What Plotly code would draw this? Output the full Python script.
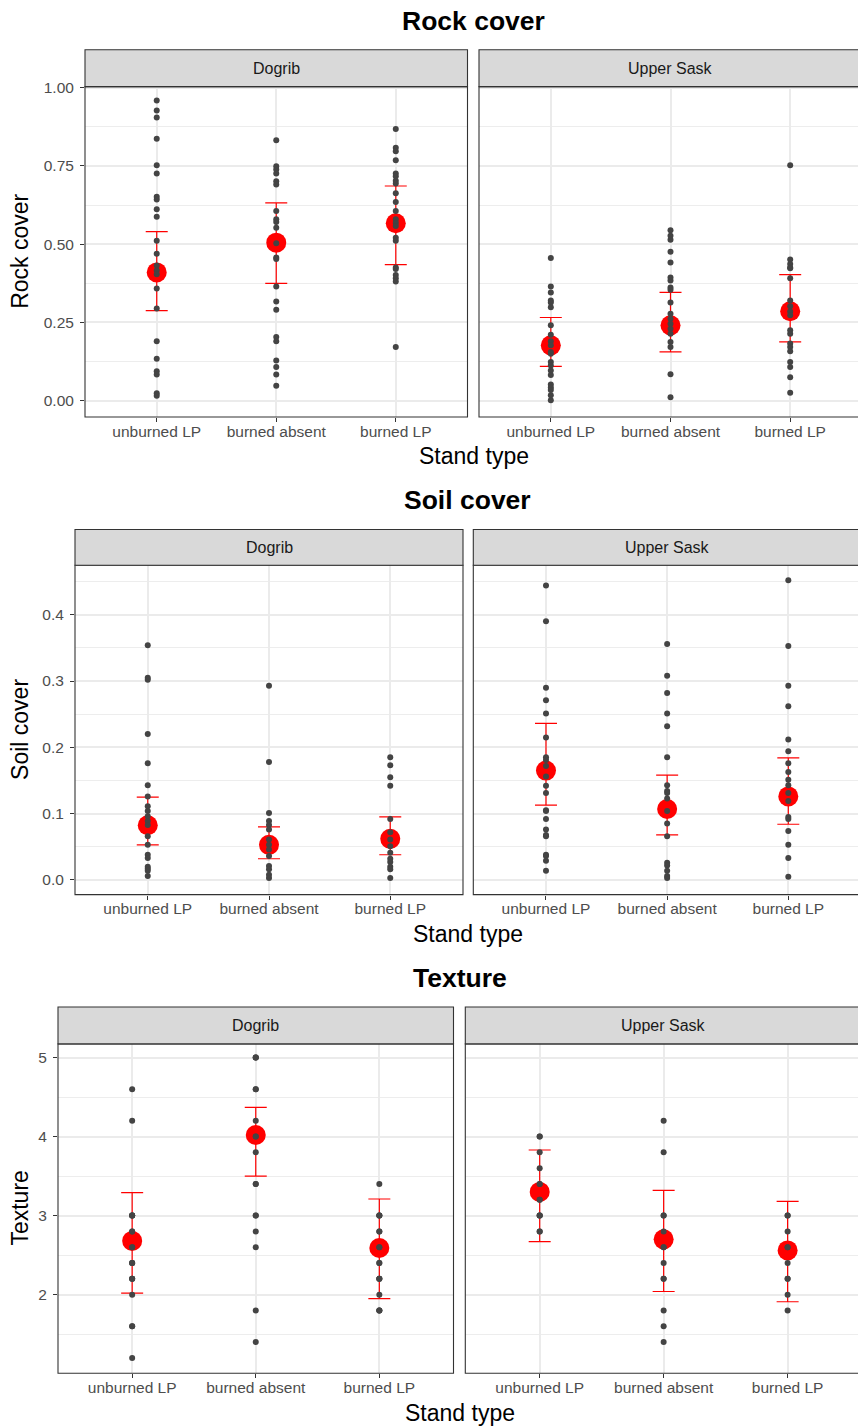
import plotly.graph_objects as go

W, H = 858, 1428

categories = ["unburned LP", "burned absent", "burned LP"]
regions = ["Dogrib", "Upper Sask"]

# ---------------- Rock cover ----------------
rock_dogrib_pts = [
    [0.959, 0.927, 0.905, 0.837, 0.752, 0.726, 0.652, 0.643, 0.612, 0.588, 0.511, 0.470,
     0.432, 0.416, 0.404, 0.359, 0.295, 0.190, 0.134, 0.094, 0.084, 0.024, 0.016],
    [0.832, 0.749, 0.739, 0.726, 0.701, 0.691, 0.606, 0.580, 0.571, 0.553, 0.503, 0.458,
     0.453, 0.365, 0.317, 0.291, 0.204, 0.190, 0.129, 0.108, 0.084, 0.048],
    [0.868, 0.808, 0.797, 0.768, 0.726, 0.717, 0.703, 0.694, 0.663, 0.635, 0.606, 0.580,
     0.569, 0.558, 0.521, 0.511, 0.426, 0.421, 0.402, 0.391, 0.381, 0.172],
]
rock_dogrib_mean = [0.410, 0.505, 0.567]
rock_dogrib_lo = [0.288, 0.375, 0.435]
rock_dogrib_hi = [0.540, 0.632, 0.686]

rock_upper_pts = [
    [0.456, 0.365, 0.346, 0.320, 0.314, 0.299, 0.241, 0.211, 0.190, 0.177, 0.156, 0.150,
     0.124, 0.113, 0.097, 0.082, 0.052, 0.042, 0.034, 0.018, 0.002],
    [0.545, 0.527, 0.514, 0.476, 0.442, 0.394, 0.384, 0.362, 0.355, 0.314, 0.278, 0.262,
     0.246, 0.230, 0.214, 0.188, 0.172, 0.085, 0.011],
    [0.752, 0.451, 0.437, 0.426, 0.423, 0.391, 0.320, 0.302, 0.285, 0.273, 0.225, 0.214,
     0.183, 0.172, 0.158, 0.124, 0.108, 0.075, 0.026],
]
rock_upper_mean = [0.177, 0.241, 0.286]
rock_upper_lo = [0.110, 0.156, 0.188]
rock_upper_hi = [0.266, 0.346, 0.403]

# ---------------- Soil cover ----------------
soil_dogrib_pts = [
    [0.354, 0.305, 0.302, 0.220, 0.176, 0.143, 0.126, 0.111, 0.104, 0.096, 0.089, 0.083,
     0.066, 0.053, 0.038, 0.033, 0.020, 0.017, 0.014, 0.006],
    [0.293, 0.178, 0.101, 0.089, 0.083, 0.076, 0.061, 0.053, 0.046, 0.036, 0.021, 0.016,
     0.008, 0.003],
    [0.185, 0.173, 0.155, 0.142, 0.092, 0.072, 0.061, 0.051, 0.041, 0.032, 0.027, 0.020,
     0.016, 0.003],
]
soil_dogrib_mean = [0.0825, 0.053, 0.062]
soil_dogrib_lo = [0.053, 0.032, 0.038]
soil_dogrib_hi = [0.125, 0.080, 0.095]

soil_upper_pts = [
    [0.444, 0.390, 0.290, 0.271, 0.251, 0.215, 0.185, 0.181, 0.172, 0.156, 0.142, 0.131,
     0.105, 0.104, 0.092, 0.076, 0.068, 0.066, 0.038, 0.036, 0.029, 0.014],
    [0.356, 0.308, 0.282, 0.251, 0.232, 0.185, 0.143, 0.134, 0.131, 0.123, 0.104, 0.085,
     0.066, 0.026, 0.022, 0.014, 0.006, 0.003],
    [0.452, 0.353, 0.293, 0.262, 0.212, 0.194, 0.176, 0.163, 0.151, 0.143, 0.131, 0.119,
     0.095, 0.092, 0.074, 0.053, 0.033, 0.005],
]
soil_upper_mean = [0.165, 0.107, 0.126]
soil_upper_lo = [0.113, 0.068, 0.084]
soil_upper_hi = [0.236, 0.158, 0.184]

# ---------------- Texture ----------------
tex_dogrib_pts = [
    [4.6, 4.2, 3.0, 3.0, 3.0, 3.0, 2.8, 2.8, 2.6, 2.6, 2.4, 2.4, 2.4, 2.2, 2.2, 2.2, 2.0,
     1.6, 1.6, 1.2],
    [5.0, 5.0, 5.0, 4.6, 4.6, 4.2, 4.0, 4.0, 3.8, 3.4, 3.4, 3.0, 3.0, 2.8, 2.6, 1.8, 1.4],
    [3.4, 3.0, 3.0, 3.0, 2.8, 2.8, 2.6, 2.6, 2.4, 2.4, 2.2, 2.2, 2.2, 2.0, 1.8, 1.8, 1.8],
]
tex_dogrib_mean = [2.68, 4.02, 2.59]
tex_dogrib_lo = [2.02, 3.50, 1.95]
tex_dogrib_hi = [3.29, 4.37, 3.21]

tex_upper_pts = [
    [4.0, 4.0, 3.8, 3.6, 3.4, 3.4, 3.2, 3.2, 3.0, 3.0, 3.0, 2.8, 2.8],
    [4.2, 3.8, 3.0, 3.0, 2.8, 2.6, 2.6, 2.4, 2.2, 2.2, 1.8, 1.6, 1.4],
    [3.0, 3.0, 2.8, 2.6, 2.6, 2.4, 2.2, 2.2, 2.0, 1.8],
]
tex_upper_mean = [3.30, 2.70, 2.56]
tex_upper_lo = [2.67, 2.04, 1.91]
tex_upper_hi = [3.83, 3.32, 3.18]

# ---------------- layout (pixels) ----------------
FONT = "Arial, Liberation Sans, sans-serif"
TICK_SIZE = 15.5
blocks = [
    dict(title="Rock cover", ytitle="Rock cover",
         data=[(rock_dogrib_pts, rock_dogrib_mean, rock_dogrib_lo, rock_dogrib_hi),
               (rock_upper_pts, rock_upper_mean, rock_upper_lo, rock_upper_hi)],
         top=80, bottom=412, strip_top=43, cols=[(85, 467.5), (479, 862)],
         yrange=[-0.0518, 1.0035], tickvals=[0, 0.25, 0.5, 0.75, 1.0],
         ticktext=["0.00", "0.25", "0.50", "0.75", "1.00"], minor=0.125,
         title_y=14, xtitle_y=451, ytitle_x=20),
    dict(title="Soil cover", ytitle="Soil cover",
         data=[(soil_dogrib_pts, soil_dogrib_mean, soil_dogrib_lo, soil_dogrib_hi),
               (soil_upper_pts, soil_upper_mean, soil_upper_lo, soil_upper_hi)],
         top=561, bottom=892, strip_top=525, cols=[(75, 463), (473.3, 861)],
         yrange=[-0.0221, 0.4746], tickvals=[0, 0.1, 0.2, 0.3, 0.4],
         ticktext=["0.0", "0.1", "0.2", "0.3", "0.4"], minor=0.05,
         title_y=495, xtitle_y=932, ytitle_x=20),
    dict(title="Texture", ytitle="Texture",
         data=[(tex_dogrib_pts, tex_dogrib_mean, tex_dogrib_lo, tex_dogrib_hi),
               (tex_upper_pts, tex_upper_mean, tex_upper_lo, tex_upper_hi)],
         top=1042, bottom=1373, strip_top=1005, cols=[(58, 453.5), (465.3, 862)],
         yrange=[1.0053, 5.1725], tickvals=[2, 3, 4, 5],
         ticktext=["2", "3", "4", "5"], minor=0.5,
         title_y=976, xtitle_y=1413, ytitle_x=20),
]

fig = go.Figure()
layout = {}
shapes = []
annotations = []


def px_x(v):
    return v / W


def px_y(v):
    return 1 - v / H


k = 0
for b in blocks:
    for ci, (x0, x1) in enumerate(b["cols"]):
        k += 1
        xa = "x" if k == 1 else f"x{k}"
        ya = "y" if k == 1 else f"y{k}"
        xkey = "xaxis" if k == 1 else f"xaxis{k}"
        ykey = "yaxis" if k == 1 else f"yaxis{k}"
        full = 3.2
        vis_x1 = min(x1, W)
        r1 = 0.4 + (vis_x1 - x0) / (x1 - x0) * full
        layout[xkey] = dict(
            domain=[px_x(x0), px_x(vis_x1)], anchor=ya, range=[0.4, r1],
            tickmode="array", tickvals=[1, 2, 3], ticktext=categories,
            showgrid=True, gridcolor="#EBEBEB", gridwidth=1.6,
            zeroline=False, showline=False,
            ticks="outside", ticklen=4, tickcolor="#333333", tickwidth=1,
            ticklabelstandoff=-4,
            tickfont=dict(family=FONT, size=TICK_SIZE, color="#4D4D4D"),
            fixedrange=True,
        )
        first = ci == 0
        layout[ykey] = dict(
            domain=[px_y(b["bottom"]), px_y(b["top"])], anchor=xa, range=b["yrange"],
            tickmode="array", tickvals=b["tickvals"], ticktext=b["ticktext"],
            showticklabels=first, ticks="outside" if first else "",
            ticklen=4, tickcolor="#333333", tickwidth=1,
            ticklabelstandoff=3,
            showgrid=True, gridcolor="#EBEBEB", gridwidth=1.6,
            minor=dict(dtick=b["minor"], tick0=0, showgrid=True,
                       gridcolor="#EDEDED", gridwidth=1.1, ticks=""),
            zeroline=False, showline=False,
            tickfont=dict(family=FONT, size=TICK_SIZE, color="#4D4D4D"),
            fixedrange=True,
        )
        pts, mean, lo, hi = b["data"][ci]
        xs = [1, 2, 3]
        fig.add_trace(go.Scatter(
            x=xs, y=mean, xaxis=xa, yaxis=ya, mode="markers",
            marker=dict(color="#FF0000", size=20),
            error_y=dict(type="data", symmetric=False,
                         array=[h - m for h, m in zip(hi, mean)],
                         arrayminus=[m - l for m, l in zip(mean, lo)],
                         color="#FF0000", thickness=1.2, width=11),
            showlegend=False, hoverinfo="skip"))
        for i, vals in enumerate(pts):
            fig.add_trace(go.Scatter(
                x=[xs[i]] * len(vals), y=vals, xaxis=xa, yaxis=ya, mode="markers",
                marker=dict(color="#444444", size=6),
                showlegend=False, hoverinfo="skip"))
        shapes.append(dict(type="rect", xref="paper", yref="paper",
                           x0=px_x(x0), x1=px_x(x1), y0=px_y(b["bottom"]), y1=px_y(b["top"]),
                           line=dict(color="#333333", width=1.1), fillcolor="rgba(0,0,0,0)",
                           layer="above"))
        shapes.append(dict(type="rect", xref="paper", yref="paper",
                           x0=px_x(x0), x1=px_x(x1), y0=px_y(b["top"]), y1=px_y(b["strip_top"]),
                           line=dict(color="#333333", width=1.1), fillcolor="#D9D9D9",
                           layer="above"))
        annotations.append(dict(text=regions[ci], xref="paper", yref="paper",
                                x=px_x((x0 + x1) / 2), y=px_y((b["top"] + b["strip_top"]) / 2),
                                showarrow=False, xanchor="center", yanchor="middle",
                                font=dict(family=FONT, size=16, color="#1A1A1A")))
    cx = (b["cols"][0][0] + b["cols"][1][1]) / 2
    annotations.append(dict(text="<b>" + b["title"] + "</b>", xref="paper", yref="paper",
                            x=px_x(cx), y=px_y(b["title_y"]), showarrow=False,
                            xanchor="center", yanchor="middle",
                            font=dict(family=FONT, size=26.5, color="#000000")))
    annotations.append(dict(text="Stand type", xref="paper", yref="paper",
                            x=px_x(cx), y=px_y(b["xtitle_y"]), showarrow=False,
                            xanchor="center", yanchor="middle",
                            font=dict(family=FONT, size=23, color="#000000")))
    annotations.append(dict(text=b["ytitle"], xref="paper", yref="paper",
                            x=px_x(b["ytitle_x"]), y=px_y((b["top"] + b["bottom"]) / 2),
                            showarrow=False, textangle=-90,
                            xanchor="center", yanchor="middle",
                            font=dict(family=FONT, size=23, color="#000000")))

fig.update_layout(
    width=W, height=H, margin=dict(l=0, r=0, t=0, b=0),
    paper_bgcolor="white", plot_bgcolor="white",
    shapes=shapes, annotations=annotations, showlegend=False,
    **layout,
)

fig.write_html("out.html")
